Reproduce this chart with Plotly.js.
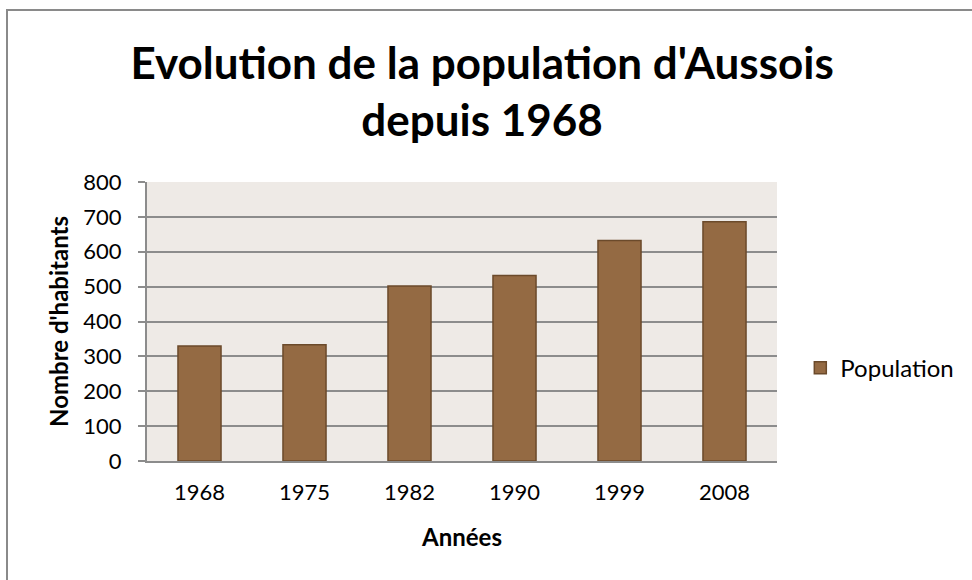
<!DOCTYPE html>
<html>
<head>
<meta charset="utf-8">
<script src="https://cdn.plot.ly/plotly-3.0.1.min.js"></script>
<style>
  html, body { margin: 0; padding: 0; background: #ffffff; }
  #wrap { position: relative; width: 972px; height: 580px; overflow: hidden; }
  #frame { position: absolute; left: 6px; top: 9px; width: 1000px; height: 620px; border: 2px solid #8a8a8a; box-sizing: border-box; pointer-events: none; }
  #chart { position: absolute; left: 0; top: 0; width: 972px; height: 580px; }
</style>
</head>
<body>
<div id="wrap">
  <div id="frame"></div>
  <div id="chart"></div>
</div>
<script>
const years = ['1968', '1975', '1982', '1990', '1999', '2008'];
const population = [330, 333, 502, 532, 632, 686];
const yTicks = [0, 100, 200, 300, 400, 500, 600, 700, 800];
const seriesName = 'Population';
const titleText = "Evolution de la population d'Aussois<br>depuis 1968";

const font = 'Lato, "Open Sans", sans-serif';

const trace = {
  type: 'bar',
  x: years,
  y: population,
  name: seriesName,
  marker: { color: '#946a43', line: { color: '#6b4a2b', width: 1.5 } },
  showlegend: true
};

const layout = {
  width: 972,
  height: 580,
  margin: { l: 147, r: 195, t: 182, b: 119, autoexpand: false },
  paper_bgcolor: 'rgba(0,0,0,0)',
  plot_bgcolor: '#eeeae6',
  bargap: 0.59,
  title: {
    text: titleText,
    font: { family: font, size: 44, color: '#000000', weight: 'bold' },
    x: 0.496, xanchor: 'center',
    y: 0.864, yanchor: 'top'
  },
  xaxis: {
    type: 'category',
    showline: true, linecolor: '#8c8c8c', linewidth: 2,
    ticks: '', showgrid: false,
    tickfont: { family: font, size: 22, color: '#000' },
    ticklabelstandoff: 11,
    title: { text: 'Années', font: { family: font, size: 24, color: '#000', weight: 'bold' }, standoff: 25 }
  },
  yaxis: {
    range: [0, 800],
    tickvals: yTicks,
    ticktext: yTicks.map(String),
    showline: true, linecolor: '#8c8c8c', linewidth: 2,
    ticks: 'outside', ticklen: 7, tickwidth: 2, tickcolor: '#8c8c8c',
    gridcolor: '#8c8c8c', gridwidth: 2,
    zeroline: false,
    tickfont: { family: font, size: 22, color: '#000' },
    ticklabelstandoff: 12,
    title: { text: "Nombre d'habitants", font: { family: font, size: 24, color: '#000', weight: 'bold' }, standoff: 8 }
  },
  legend: {
    x: 1.037, xanchor: 'left', y: 0.333, yanchor: 'middle',
    font: { family: font, size: 24, color: '#000' },
    bgcolor: 'rgba(0,0,0,0)', itemwidth: 30
  }
};

Plotly.newPlot('chart', [trace], layout, { displayModeBar: false, staticPlot: true });
</script>
</body>
</html>
